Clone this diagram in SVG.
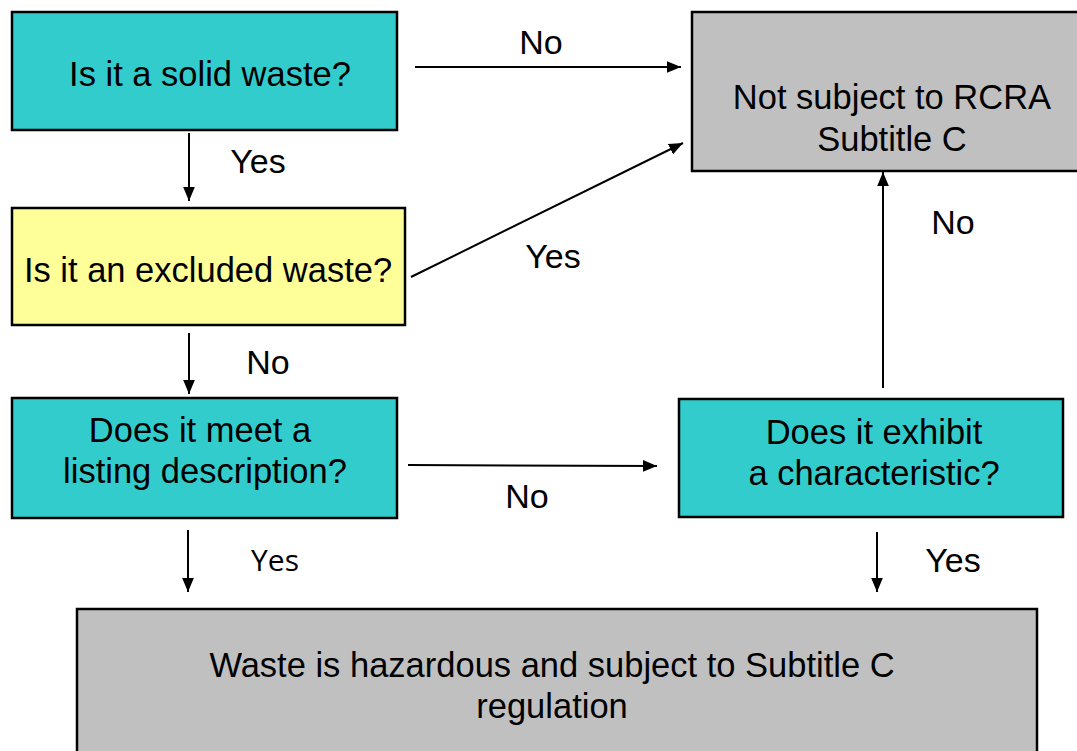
<svg xmlns="http://www.w3.org/2000/svg" width="1077" height="751" viewBox="0 0 1077 751">
<defs>
<marker id="arrow" viewBox="0 0 12 10" refX="12" refY="5" markerWidth="14" markerHeight="12" orient="auto" markerUnits="userSpaceOnUse">
<path d="M0,0 L12,5 L0,10 Z" fill="#000"/>
</marker>
<style>
.box{stroke:#000;stroke-width:2.5}
.teal{fill:#33CCCC}
.yellow{fill:#FFFF99}
.grey{fill:#C0C0C0}
.t{font-family:"Liberation Sans",Arial,sans-serif;font-size:34.5px;fill:#000;text-anchor:middle}
.lbl{font-family:"Liberation Sans",Arial,sans-serif;font-size:34px;fill:#000;text-anchor:middle}
.lbl2{font-family:"Open Sans","Liberation Sans",sans-serif;font-size:30px;fill:#000;text-anchor:middle}
.c{stroke:#000;stroke-width:2;fill:none;marker-end:url(#arrow)}
</style>
</defs>
<rect width="1077" height="751" fill="#fff"/>
<g id="connectors">
<line class="c" x1="415" y1="67" x2="681" y2="67"/>
<line class="c" x1="189" y1="133" x2="189" y2="201"/>
<line class="c" x1="411" y1="277" x2="683" y2="143"/>
<line class="c" x1="189" y1="333" x2="189" y2="394"/>
<line class="c" x1="408" y1="465" x2="657" y2="466"/>
<line class="c" x1="883" y1="388" x2="883" y2="172"/>
<line class="c" x1="188" y1="530" x2="188" y2="592"/>
<line class="c" x1="877" y1="532" x2="877" y2="592"/>
<text class="lbl" x="541" y="54">No</text>
<text class="lbl" x="258" y="173">Yes</text>
<text class="lbl" x="553" y="268">Yes</text>
<text class="lbl" x="268" y="374">No</text>
<text class="lbl" x="527" y="508">No</text>
<text class="lbl" x="953" y="234">No</text>
<text class="lbl2" x="275" y="571">Yes</text>
<text class="lbl" x="953" y="572">Yes</text>
</g>
<g id="n1">
<rect class="box teal" x="12" y="12" width="385" height="118"/>
<text class="t" x="210" y="86">Is it a solid waste?</text>
</g>
<g id="n2">
<rect class="box grey" x="692" y="12" width="390" height="159"/>
<text class="t" x="892" y="109">Not subject to RCRA</text>
<text class="t" x="892" y="151">Subtitle C</text>
</g>
<g id="n3">
<rect class="box yellow" x="12" y="208" width="393" height="117"/>
<text class="t" x="208" y="282">Is it an excluded waste?</text>
</g>
<g id="n4">
<rect class="box teal" x="12" y="398" width="385" height="120"/>
<text class="t" x="200" y="442">Does it meet a</text>
<text class="t" x="205" y="483">listing description?</text>
</g>
<g id="n5">
<rect class="box teal" x="679" y="399" width="384" height="118"/>
<text class="t" x="874" y="444">Does it exhibit</text>
<text class="t" x="874" y="485">a characteristic?</text>
</g>
<g id="n6">
<rect class="box grey" x="77" y="609" width="960" height="160"/>
<text class="t" x="552" y="677">Waste is hazardous and subject to Subtitle C</text>
<text class="t" x="552" y="718">regulation</text>
</g>
</svg>
